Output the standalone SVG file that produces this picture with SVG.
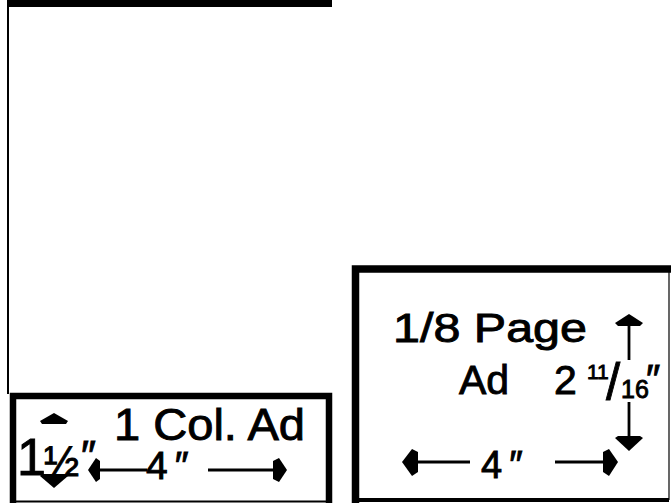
<svg xmlns="http://www.w3.org/2000/svg" width="671" height="503" viewBox="0 0 671 503">
<style>
.t{font-family:"Liberation Sans",Arial,Helvetica,sans-serif;fill:#000;stroke:#000;stroke-width:0.9}
.ln{stroke:#000;fill:none}
.sh{stroke:#000;stroke-width:2.8;fill:none}
.hd{fill:#000;stroke:none}
</style>
<rect width="671" height="503" fill="#fff"/>
<g id="page-frame">
<rect x="7" y="0" width="325" height="7" fill="#000"/>
<line class="ln" x1="8" y1="0" x2="8" y2="394" stroke-width="2"/>
</g>
<g id="col-ad">
<path class="ln" d="M13,503 V396 H329 V503" stroke-width="6.5"/>
<line class="ln" x1="13" y1="501.5" x2="329" y2="501.5" stroke-width="2" stroke="#333"/>
<text class="t" x="114" y="440" font-size="45" textLength="191" lengthAdjust="spacingAndGlyphs">1 Col. Ad</text>
<text class="t"><tspan x="17" y="475" font-size="52">1</tspan><tspan x="44" y="476" font-size="42">½</tspan><tspan x="81" y="470" font-size="42">″</tspan></text>
<text class="t" x="146" y="479" font-size="39" letter-spacing="7">4″</text>
</g>
<g id="eighth-page-ad">
<path class="ln" d="M355.5,503 V269 H671" stroke-width="7.5"/>
<line class="ln" x1="355" y1="500" x2="669" y2="500" stroke-width="4"/>
<line class="ln" x1="669" y1="269" x2="669" y2="500" stroke-width="1.2" stroke="#999"/>
<text class="t" x="393" y="342" font-size="41" textLength="194" lengthAdjust="spacingAndGlyphs">1/8 Page</text>
<text class="t" x="459" y="394" font-size="41">Ad</text>
<text class="t"><tspan x="554" y="394" font-size="41">2</tspan><tspan x="587" y="379" font-size="21">11</tspan><tspan x="606" y="400" font-size="51">/</tspan><tspan x="621" y="398" font-size="25">16</tspan><tspan x="646" y="393" font-size="40">″</tspan></text>
<text class="t" x="481" y="478" font-size="38" letter-spacing="7">4″</text>
</g>
<g id="connectors">
<polygon class="hd" points="54,413 68,421 66,424 42,424 40,421"/>
<polygon class="hd" points="40,476 42,474 66,474 68,476 54,488"/>
<polygon class="hd" points="88,470 96,458 100,461 100,479 96,482"/>
<line class="sh" x1="100" y1="470" x2="147" y2="470"/>
<line class="sh" x1="208" y1="470" x2="274" y2="470"/>
<polygon class="hd" points="287,470 279,458 273,461 273,479 279,482"/>
<polygon class="hd" points="402,462 412,449 418,452 418,472 412,476"/>
<line class="sh" x1="418" y1="462" x2="470" y2="462"/>
<line class="sh" x1="555" y1="462" x2="604" y2="462"/>
<polygon class="hd" points="618,462 609,449 603,452 603,472 609,476"/>
<polygon class="hd" points="629,314 643,323 640,326 618,326 615,323"/>
<line class="sh" x1="629" y1="325" x2="629" y2="360"/>
<line class="sh" x1="629" y1="402" x2="629" y2="438"/>
<polygon class="hd" points="615,438 618,436 640,436 643,438 629,451"/>
</g>
</svg>
